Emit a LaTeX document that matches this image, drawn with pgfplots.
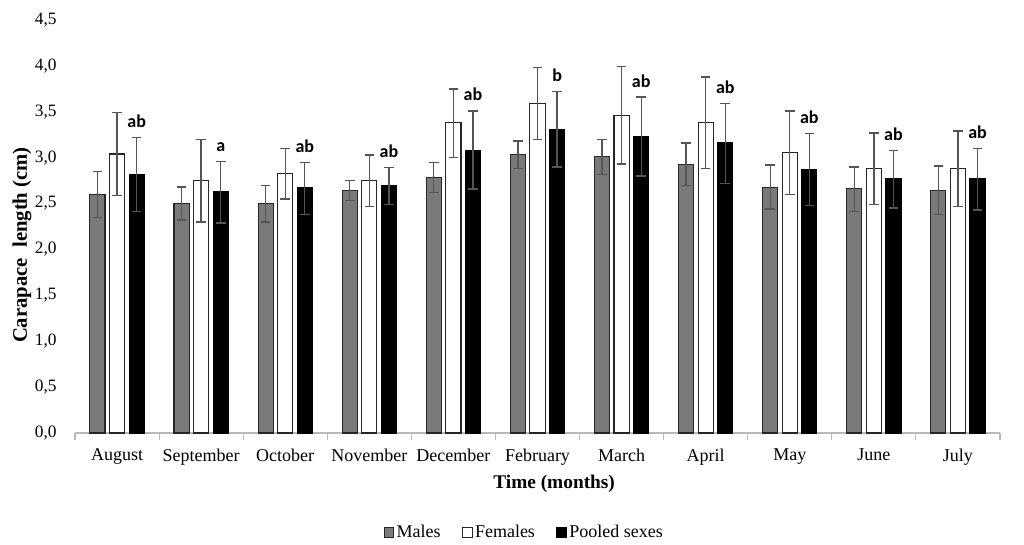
\documentclass[border=0pt]{standalone}
\usepackage{fontspec}
\setmainfont{Liberation Serif}
\newfontfamily\carlito{Carlito}
\usepackage{pgfplots}
\pgfplotsset{compat=1.18}
\usepackage{pgfplotstable}

\pgfplotstableread{
x y ep em
0 2.60 0.25 0.25
1 2.50 0.18 0.18
2 2.50 0.20 0.20
3 2.64 0.11 0.11
4 2.78 0.17 0.16
5 3.03 0.15 0.15
6 3.01 0.19 0.19
7 2.93 0.23 0.23
8 2.68 0.24 0.24
9 2.66 0.24 0.25
10 2.64 0.27 0.26
}\males

\pgfplotstableread{
x y ep em
0 3.04 0.45 0.45
1 2.75 0.45 0.45
2 2.83 0.27 0.28
3 2.75 0.28 0.28
4 3.38 0.37 0.38
5 3.59 0.39 0.39
6 3.46 0.53 0.53
7 3.38 0.50 0.50
8 3.06 0.45 0.46
9 2.88 0.39 0.39
10 2.88 0.41 0.41
}\females

\pgfplotstableread{
x y ep em
0 2.82 0.40 0.41
1 2.63 0.33 0.34
2 2.67 0.28 0.29
3 2.70 0.19 0.21
4 3.08 0.43 0.42
5 3.31 0.41 0.41
6 3.23 0.43 0.43
7 3.16 0.43 0.44
8 2.87 0.39 0.39
9 2.77 0.31 0.32
10 2.77 0.33 0.34
}\pooled

\pgfplotstableread{
x ly lab
0 3.33 ab
1 3.07 a
2 3.06 ab
3 3.00 ab
4 3.62 ab
5 3.83 b
6 3.77 ab
7 3.70 ab
8 3.37 ab
9 3.19 ab
10 3.21 ab
}\letters

\definecolor{malegray}{HTML}{7A7A7A}
\definecolor{errgray}{HTML}{555555}

\pgfplotsset{
  errstyle/.style={
    error bars/.cd, y dir=both, y explicit,
    error bar style={draw=errgray, line width=1pt},
    error mark options={rotate=90, mark size=3.6pt, draw=errgray, line width=1pt}},
  sqlegend/.style={legend image code/.code={
    \draw[##1, line width=0.6pt] (0pt,-3.6pt) rectangle (7.2pt,3.6pt);}},
}

\begin{document}
\begin{tikzpicture}
\begin{axis}[
  scale only axis,
  width=693.75pt, height=309.75pt,
  xmin=-0.5, xmax=10.5,
  ymin=0, ymax=4.5,
  axis x line=bottom, axis y line=left,
  axis line style={-},
  x axis line style={draw=gray!55, line width=0.8pt},
  y axis line style={draw=none},
  xtick={0,...,10},
  xticklabels={August,September,October,November,December,February,March,April,May,June,July},
  major x tick style={draw=none},
  minor xtick={-0.5,0.5,...,10.5},
  minor x tick style={draw=gray!55, line width=0.8pt},
  minor tick length=5pt,
  tick align=outside,
  ytick={0,0.5,...,4.5},
  major y tick style={draw=none},
  /pgf/number format/.cd, fixed, fixed zerofill, precision=1, use comma, assume math mode=true,
  /pgfplots/.cd,
  xticklabel style={font=\fontsize{13.5}{15}\selectfont, yshift=-4pt},
  yticklabel style={font=\fontsize{13}{15}\selectfont, xshift=-6pt},
  xlabel={\textbf{Time (months)}},
  xlabel style={font=\fontsize{14.5}{16}\selectfont, at={(axis description cs:0.518,-0.122)}, anchor=center},
  ylabel={\textbf{Carapace\ \ length (cm)}},
  ylabel style={font=\fontsize{15.5}{17}\selectfont, at={(axis description cs:-0.0573,0.455)}, anchor=center, rotate=0},
  legend style={at={(axis description cs:0.486,-0.24)}, anchor=center, draw=none, fill=none,
    font=\fontsize{13.5}{15}\selectfont, legend columns=3,
    /tikz/every even column/.append style={column sep=14pt}},
  legend cell align=left,
  clip=false,
]
\addplot[ybar, bar width=0.18, bar shift=0, fill=malegray, draw=black!85, line width=0.8pt,
  sqlegend, errstyle] table[x expr=\thisrow{x}-0.233, y=y, y error plus=ep, y error minus=em] {\males};
\addlegendentry{Males}
\addplot[ybar, bar width=0.18, bar shift=0, fill=white, draw=black!85, line width=0.8pt,
  sqlegend, errstyle] table[x=x, y=y, y error plus=ep, y error minus=em] {\females};
\addlegendentry{Females}
\addplot[ybar, bar width=0.18, bar shift=0, fill=black, draw=black, line width=0.8pt,
  sqlegend, errstyle] table[x expr=\thisrow{x}+0.233, y=y, y error plus=ep, y error minus=em] {\pooled};
\addlegendentry{Pooled sexes}
\addplot[only marks, mark=none, forget plot,
  nodes near coords, point meta=explicit symbolic,
  nodes near coords align={center},
  every node near coord/.append style={anchor=base, font=\carlito\bfseries\fontsize{13.5}{15}\selectfont, inner sep=0pt},
  ] table[x expr=\thisrow{x}+0.233, y=ly, meta=lab] {\letters};
\end{axis}
\path (current axis.south west) ++(-56.25pt,-81.75pt) coordinate (bbA);
\path (current axis.south west) ++(711.75pt,324.75pt) coordinate (bbB);
\useasboundingbox (bbA) rectangle (bbB);
\end{tikzpicture}
\end{document}
